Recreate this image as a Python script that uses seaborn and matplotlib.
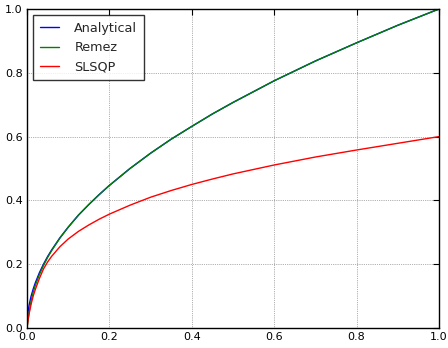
import matplotlib
matplotlib.use("Agg")
import matplotlib.pyplot as plt
import seaborn as sns
import pandas as pd

x_vals = [0.0, 0.001, 0.0025, 0.005, 0.01, 0.015, 0.02, 0.03, 0.04, 0.05, 0.06, 0.08,
          0.1, 0.125, 0.15, 0.175, 0.2, 0.25, 0.3, 0.35, 0.4, 0.45, 0.5, 0.6, 0.7, 0.8, 0.9, 1.0]
analytical = [0.0, 0.032, 0.05, 0.071, 0.1, 0.122, 0.141, 0.173, 0.2, 0.224, 0.245, 0.283,
              0.316, 0.354, 0.387, 0.418, 0.447, 0.5, 0.548, 0.592, 0.632, 0.671, 0.707, 0.775, 0.837, 0.894, 0.949, 1.0]
remez = [0.0, 0.01, 0.025, 0.048, 0.085, 0.112, 0.133, 0.167, 0.196, 0.221, 0.243, 0.282,
         0.316, 0.354, 0.387, 0.418, 0.447, 0.5, 0.548, 0.592, 0.632, 0.671, 0.707, 0.775, 0.837, 0.894, 0.949, 1.0]
slsqp = [0.0, 0.01, 0.024, 0.044, 0.075, 0.1, 0.12, 0.155, 0.185, 0.207, 0.225, 0.255,
         0.279, 0.303, 0.323, 0.341, 0.357, 0.385, 0.41, 0.431, 0.45, 0.467, 0.483, 0.511, 0.536, 0.558, 0.579, 0.6]
series_names = ["Analytical", "Remez", "SLSQP"]
series_colors = ["#0000ff", "#008000", "#ff0000"]
tick_vals = [0.0, 0.2, 0.4, 0.6, 0.8, 1.0]

sns.set_style("white")
plt.rcParams['font.family'] = ['DejaVu Sans']

rows = []
for name, vals in zip(series_names, [analytical, remez, slsqp]):
    for xv, yv in zip(x_vals, vals):
        rows.append({"x": xv, "y": yv, "method": name})
df = pd.DataFrame(rows)

fig = plt.figure(figsize=(4.48, 3.48), dpi=100)
ax = fig.add_axes([27/448, 1-328/348, (439-27)/448, (328-9)/348])

sns.lineplot(data=df, x="x", y="y", hue="method", hue_order=series_names,
             palette=dict(zip(series_names, series_colors)), estimator=None,
             sort=False, linewidth=1.0, ax=ax)

ax.set_xlim(0, 1)
ax.set_ylim(0, 1)
ax.set_xticks(tick_vals)
ax.set_yticks(tick_vals)
ax.set_xlabel("")
ax.set_ylabel("")
ax.grid(True, color='k', linestyle=':', linewidth=0.5, alpha=0.6)
for s in ax.spines.values():
    s.set_color('black')
    s.set_linewidth(1.0)
ax.tick_params(direction='in', length=4, width=0.8, top=True, right=True,
               labelsize=8, pad=3, colors='black')

handles, labels = ax.get_legend_handles_labels()
leg = ax.legend(handles, labels, loc='upper left', fontsize=9.2, frameon=True,
                fancybox=False, shadow=False, handlelength=1.5, handletextpad=1.2,
                borderpad=0.5, labelspacing=0.5, borderaxespad=0.5)
leg.get_frame().set_edgecolor('black')
leg.get_frame().set_linewidth(1.0)

fig.savefig("out.png", dpi=100)
